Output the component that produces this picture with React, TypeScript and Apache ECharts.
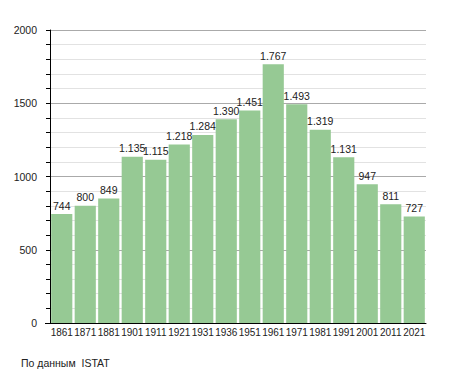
import React, { useEffect, useRef } from "react";
import * as echarts from "echarts";

const years = ["1861", "1871", "1881", "1901", "1911", "1921", "1931", "1936", "1951", "1961", "1971", "1981", "1991", "2001", "2011", "2021"];
const population = [744, 800, 849, 1135, 1115, 1218, 1284, 1390, 1451, 1767, 1493, 1319, 1131, 947, 811, 727];
const yTicks = { min: 0, max: 2000, interval: 500 };
const sourceText = "По данным  ISTAT";

const fmt = (v: number) => {
  const s = String(Math.round(v));
  return s.replace(/\B(?=(\d{3})+(?!\d))/g, ".");
};

export default function App() {
  const ref = useRef<HTMLDivElement>(null);
  useEffect(() => {
    if (!ref.current) return;
    const chart = echarts.init(ref.current, undefined, { renderer: "svg" });
    const font = "Liberation Sans, Arial, sans-serif";
    chart.setOption({
      animation: false,
      backgroundColor: "#ffffff",
      textStyle: { fontFamily: font },
      grid: { left: 50, right: 29, top: 30, bottom: 50, containLabel: false },
      xAxis: {
        type: "category",
        data: years,
        axisLine: { show: true, lineStyle: { color: "#000", width: 1 } },
        axisTick: { show: false },
        axisLabel: { interval: 0, color: "#222", fontSize: 10, margin: 4, fontFamily: font, hideOverlap: false },
        splitLine: { show: false },
      },
      yAxis: {
        type: "value",
        min: yTicks.min,
        max: yTicks.max,
        interval: yTicks.interval,
        axisLine: { show: true, lineStyle: { color: "#000", width: 1 } },
        axisTick: { show: true, length: 4, lineStyle: { color: "#000" } },
        minorTick: { show: true, splitNumber: 5, length: 4, lineStyle: { color: "#000" } },
        axisLabel: {
          color: "#222",
          fontSize: 10.5,
          margin: 13,
          fontFamily: font,
          formatter: (v: number) => String(v),
        },
        splitLine: { show: true, lineStyle: { color: "#aaaaaa", width: 1 } },
        minorSplitLine: { show: true, lineStyle: { color: "#e2e2e2", width: 1 } },
      },
      series: [
        {
          type: "bar",
          data: population,
          barCategoryGap: "10%",
          itemStyle: { color: "#96c994" },
          label: {
            show: true,
            position: "top",
            distance: 3,
            color: "#222",
            fontSize: 10.5,
            fontFamily: font,
            formatter: (p: any) => fmt(p.value),
          },
        },
      ],
      graphic: [
        {
          type: "line",
          shape: { x1: 45, y1: 323.5, x2: 50, y2: 323.5 },
          style: { stroke: "#000", lineWidth: 1 },
        },
        {
          type: "text",
          left: 21,
          top: 357,
          style: { text: sourceText, fill: "#222", fontSize: 10.5, fontFamily: font },
        },
      ],
    });
    return () => chart.dispose();
  }, []);
  return <div ref={ref} style={{ width: 455, height: 373, position: "absolute", left: 0, top: 0 }} />;
}
